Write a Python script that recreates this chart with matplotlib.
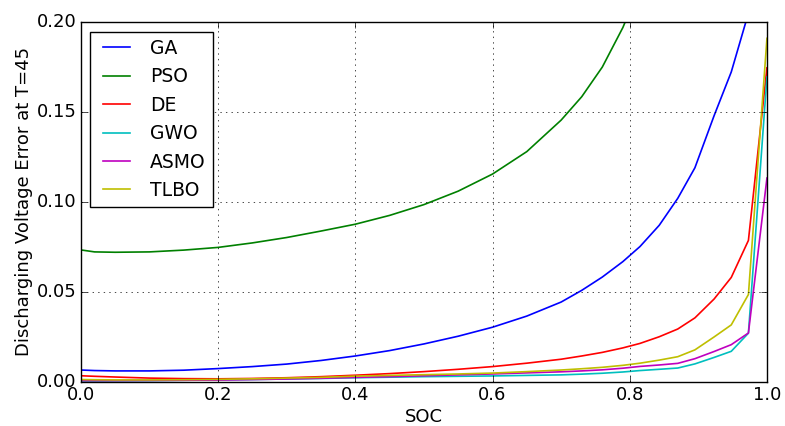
import matplotlib
matplotlib.use("Agg")
import matplotlib.pyplot as plt

plt.style.use('classic')
plt.rcParams['figure.facecolor'] = 'white'
plt.rcParams['savefig.facecolor'] = 'white'
plt.rcParams['font.family'] = ['DejaVu Sans']
plt.rcParams['font.size'] = 13

soc = [0, 0.02, 0.05, 0.1, 0.15, 0.2, 0.25, 0.3, 0.35, 0.4, 0.45, 0.5, 0.55, 0.6,
       0.65, 0.7, 0.73, 0.76, 0.79, 0.815, 0.843, 0.87, 0.895, 0.923, 0.948, 0.973, 1.0]

ga = [0.0065, 0.0062, 0.0060, 0.0060, 0.0064, 0.0073, 0.0084, 0.0098, 0.0118, 0.0143,
      0.0173, 0.0210, 0.0253, 0.0303, 0.0365, 0.0443, 0.0508, 0.0582, 0.0668, 0.0752,
      0.0870, 0.1020, 0.1190, 0.1480, 0.1723, 0.2050, 0.3500]
pso = [0.0733, 0.0722, 0.0720, 0.0722, 0.0732, 0.0747, 0.0772, 0.0802, 0.0838, 0.0876,
       0.0925, 0.0985, 0.1060, 0.1155, 0.1280, 0.1455, 0.1585, 0.1750, 0.1970, 0.2200,
       0.2500, 0.2900, 0.3400, 0.4100, 0.5000, 0.6200, 0.8000]
de = [0.0033, 0.0030, 0.0026, 0.0020, 0.0017, 0.0016, 0.0018, 0.0022, 0.0028, 0.0036,
      0.0045, 0.0056, 0.0069, 0.0084, 0.0103, 0.0125, 0.0143, 0.0163, 0.0188, 0.0213,
      0.0250, 0.0293, 0.0355, 0.0460, 0.0580, 0.0786, 0.1746]
gwo = [0.0004, 0.0004, 0.0005, 0.0006, 0.0008, 0.0010, 0.0012, 0.0015, 0.0018, 0.0022,
       0.0025, 0.0028, 0.0030, 0.0032, 0.0035, 0.0038, 0.0042, 0.0047, 0.0054, 0.0062,
       0.0069, 0.0076, 0.0099, 0.0135, 0.0169, 0.0270, 0.1695]
asmo = [0.0006, 0.0006, 0.0006, 0.0007, 0.0008, 0.0009, 0.0012, 0.0015, 0.0019, 0.0024,
        0.0028, 0.0033, 0.0038, 0.0043, 0.0049, 0.0055, 0.0060, 0.0066, 0.0075, 0.0085,
        0.0093, 0.0102, 0.0128, 0.0168, 0.0206, 0.0271, 0.1133]
tlbo = [0.0012, 0.0011, 0.0010, 0.0010, 0.0011, 0.0013, 0.0016, 0.0020, 0.0024, 0.0031,
        0.0035, 0.0039, 0.0043, 0.0048, 0.0056, 0.0065, 0.0072, 0.0080, 0.0091, 0.0103,
        0.0120, 0.0139, 0.0177, 0.0249, 0.0316, 0.0485, 0.1910]

series = [("GA", ga, "b"), ("PSO", pso, "g"), ("DE", de, "r"),
          ("GWO", gwo, "c"), ("ASMO", asmo, "m"), ("TLBO", tlbo, "y")]

fig = plt.figure(figsize=(7.85, 4.26), dpi=100)
ax = fig.add_axes([0.103, 0.104, 0.874, 0.844])
for name, vals, col in series:
    ax.plot(soc, vals, color=col, label=name, linewidth=1.2)

ax.set_xlim(0, 1.0)
ax.set_ylim(0, 0.20)
ax.set_xticks([0.0, 0.2, 0.4, 0.6, 0.8, 1.0])
ax.set_yticks([0.0, 0.05, 0.10, 0.15, 0.20])
ax.tick_params(axis='both', labelsize=13, pad=3)
ax.grid(True, linestyle=':', color='k', linewidth=0.5)
ax.set_xlabel("SOC", fontsize=13, labelpad=3)
ax.set_ylabel("Discharging Voltage Error at T=45", fontsize=13, labelpad=3)
ax.legend(loc='upper left', fontsize=13.5)

fig.savefig("out.png", dpi=100)
